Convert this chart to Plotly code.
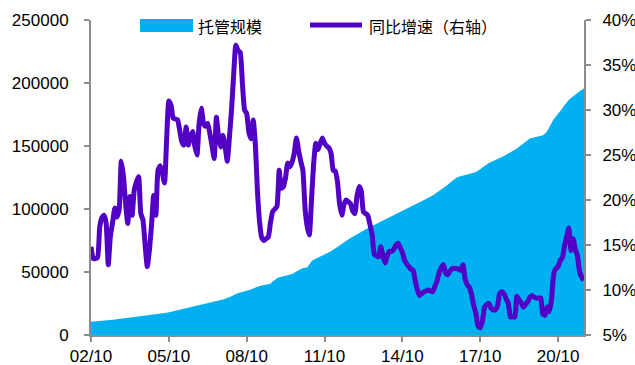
import pandas as pd
import plotly.graph_objects as go

# 托管规模 (monthly, left axis), 2002-10 .. 2021-10
scale_values = [
    10500, 10600, 10750,
    10900, 11050, 11200, 11350, 11500, 11650, 11900, 12100, 12300, 12500, 12700, 12900,
    13100, 13300, 13500, 13700, 13900, 14100, 14300, 14500, 14750, 15000, 15250, 15500,
    15800, 16050, 16300, 16550, 16800, 17000, 17250, 17500, 17750, 18000, 18400, 18800,
    19200, 19600, 20000, 20400, 20800, 21200, 21600, 22000, 22500, 22900, 23300, 23800,
    24200, 24600, 24900, 25200, 25500, 25900, 26200, 26500, 27000, 27500, 28100, 28700,
    29300, 29900, 30800, 31800, 32800, 33400, 33800, 34200, 34500, 34900, 35500, 36200,
    37000, 37800, 38500, 38900, 39200, 39600, 39900, 40200, 40600, 42500, 44000, 45000,
    45800, 46400, 46800, 47100, 47400, 47700, 48500, 49500, 50600, 51700, 52400, 52900,
    53300, 53800, 56000, 58500, 59700, 60500, 61300, 62100, 63000, 63900, 64800, 65700,
    66500, 67600, 68800, 70000, 71200, 72400, 73600, 74900, 76000, 77000, 78000, 79000,
    80100, 81200, 82300, 83300, 84100, 84900, 85800, 86600, 87500, 88300, 89100, 90000,
    90900, 91800, 92600, 93400, 94300, 95100, 96000, 96800, 97700, 98500, 99400, 100200,
    101000, 101900, 102800, 103600, 104500, 105300, 106100, 106900, 107800, 108700, 109600, 110800,
    112000, 113200, 114200, 115300, 116300, 117800, 119300, 120800, 122300, 123700, 124900, 125500,
    125900, 126300, 126800, 127300, 127800, 128300, 128800, 129300, 130300, 131600, 133000, 134400,
    135800, 136600, 137300, 138000, 138800, 139600, 140600, 141300, 142100, 143000, 143900, 144800,
    145800, 146800, 148000, 149400, 150800, 152200, 153500, 154800, 156000, 156400, 156800, 157200,
    157700, 158200, 158600, 160000, 162000, 165000, 168500, 171500, 173500, 175500, 177500, 180000,
    182500, 185000, 186500, 188000, 189500, 191000, 192300, 193500, 194700, 195800,
]

# 同比增速 (%, right axis), same months
growth_values = [
    14.8, 13.5, 13.5,
    13.6, 17.0, 18.0, 18.3, 17.5, 12.8, 16.0, 17.5, 19.1, 18.1, 18.9, 24.3,
    22.6, 19.5, 17.4, 20.4, 18.3, 21.1, 22.0, 22.6, 18.5, 17.8, 15.0, 12.6,
    14.5, 17.4, 20.5, 18.3, 23.3, 23.8, 23.0, 21.9, 27.0, 31.0, 30.5, 29.1,
    29.0, 28.9, 27.8, 26.5, 26.1, 28.1, 26.1, 27.0, 27.6, 26.0, 25.0, 28.5,
    30.2, 28.5, 28.2, 28.5, 27.4, 26.0, 24.6, 29.2, 27.0, 25.9, 27.2, 26.0,
    24.3, 27.0, 30.0, 34.0, 37.2, 36.6, 36.4, 33.0, 30.0, 29.6, 27.5, 26.8,
    28.9, 26.0, 21.0, 17.5, 15.8, 15.5, 15.7, 15.9, 17.5, 18.7, 19.0, 19.3,
    23.3, 21.3, 21.5, 22.5, 24.1, 23.7, 24.2, 25.2, 26.9, 25.5, 24.3, 23.3,
    19.0, 17.0, 16.1, 20.0, 24.0, 26.3, 25.6, 26.3, 26.9, 26.3, 26.0, 25.8,
    25.2, 23.3, 23.2, 22.0, 19.5, 18.3, 19.5, 20.0, 19.8, 19.6, 18.8, 18.5,
    20.5, 21.5, 21.0, 18.7, 18.5, 18.3, 17.3, 16.2, 14.0, 13.8, 13.7, 14.8,
    13.8, 13.0, 13.8, 14.3, 14.3, 14.5, 15.0, 15.2, 14.7, 14.2, 13.3, 12.9,
    12.6, 12.3, 12.2, 11.0, 10.0, 9.4, 9.6, 9.8, 9.9, 10.0, 9.9, 9.8,
    10.4, 11.0, 11.9, 12.5, 12.8, 11.9, 11.7, 12.1, 12.4, 12.4, 12.4, 12.3,
    12.2, 12.8, 11.3, 10.6, 10.3, 9.5, 8.3, 7.4, 6.0, 5.8, 6.5, 8.1,
    8.4, 8.5, 8.0, 7.8, 7.8, 8.2, 9.6, 9.8, 9.6, 9.0, 8.5, 7.0,
    7.0, 7.0, 9.3, 8.9, 8.6, 8.1, 8.4, 8.7, 9.2, 9.4, 9.2, 9.1,
    9.1, 9.1, 7.3, 7.2, 8.1, 7.6, 9.0, 11.8, 12.4, 12.6, 13.3, 13.6,
    15.0, 16.0, 16.9, 14.4, 15.7, 14.5, 13.8, 12.0, 11.4, 11.1,
]

tick_dates = ["2002-10-01", "2005-10-01", "2008-10-01", "2011-10-01",
              "2014-10-01", "2017-10-01", "2020-10-01"]
tick_labels = ["02/10", "05/10", "08/10", "11/10", "14/10", "17/10", "20/10"]

left_ticks = [0, 50000, 100000, 150000, 200000, 250000]
right_ticks = [5, 10, 15, 20, 25, 30, 35, 40]
right_tick_labels = ["5%", "10%", "15%", "20%", "25%", "30%", "35%", "40%"]

assert len(scale_values) == len(growth_values)
months = pd.date_range("2002-10-01", periods=len(scale_values), freq="MS")

AREA_COLOR = "#00B0F0"
LINE_COLOR = "#5200C6"
AXIS_COLOR = "#8C8C8C"
TICK_FONT = dict(family="Arial, Liberation Sans, sans-serif", size=17, color="#000000")
CJK_FONT = dict(family="Noto Sans CJK SC", size=16, color="#000000")

fig = go.Figure()
fig.add_trace(go.Scatter(
    x=months, y=scale_values, name="托管规模",
    mode="lines", fill="tozeroy", fillcolor=AREA_COLOR,
    line=dict(width=0, color=AREA_COLOR), showlegend=False,
))
fig.add_trace(go.Scatter(
    x=months, y=growth_values, name="同比增速（右轴）", yaxis="y2",
    mode="lines",
    line=dict(width=5, color=LINE_COLOR, shape="spline", smoothing=0.5),
    showlegend=False,
))

# plot area spans x 91..584, y 20..335 in a 635x365 page
L, R, T, B = 91, 584, 20, 335
W, H = R - L, B - T


def px(x):
    return (x - L) / W


def py(y):
    return (B - y) / H


# hand-built legend row at the top of the plot
fig.add_shape(type="rect", xref="paper", yref="paper",
              x0=px(140), x1=px(193), y0=py(32), y1=py(19),
              fillcolor=AREA_COLOR, line=dict(width=0))
fig.add_annotation(text="托管规模", xref="paper", yref="paper",
                   x=px(196), y=py(26), xanchor="left", yanchor="middle",
                   showarrow=False, font=CJK_FONT)
fig.add_shape(type="line", xref="paper", yref="paper",
              x0=px(310), x1=px(362), y0=py(25), y1=py(25),
              line=dict(color=LINE_COLOR, width=5))
fig.add_annotation(text="同比增速（右轴）", xref="paper", yref="paper",
                   x=px(367), y=py(26), xanchor="left", yanchor="middle",
                   showarrow=False, font=CJK_FONT)

fig.update_layout(
    width=635, height=365,
    margin=dict(l=L, r=635 - R, t=T, b=365 - B, autoexpand=False),
    paper_bgcolor="white", plot_bgcolor="white",
    xaxis=dict(
        type="date", range=[months[0], months[-1]],
        tickvals=tick_dates, ticktext=tick_labels,
        showgrid=False, zeroline=False, automargin=False,
        showline=True, linecolor=AXIS_COLOR, linewidth=2,
        ticks="outside", ticklen=5, tickwidth=2, tickcolor=AXIS_COLOR,
        tickfont=TICK_FONT, ticklabelstandoff=0,
    ),
    yaxis=dict(
        range=[0, 250000], tickvals=left_ticks, tickformat="d",
        showgrid=False, zeroline=False, automargin=False,
        showline=True, linecolor=AXIS_COLOR, linewidth=2,
        ticks="outside", ticklen=5, tickwidth=2, tickcolor=AXIS_COLOR,
        tickfont=TICK_FONT, ticklabelstandoff=12,
    ),
    yaxis2=dict(
        range=[5, 40], tickvals=right_ticks, ticktext=right_tick_labels,
        overlaying="y", side="right",
        showgrid=False, zeroline=False, automargin=False,
        showline=True, linecolor=AXIS_COLOR, linewidth=2,
        ticks="outside", ticklen=5, tickwidth=2, tickcolor=AXIS_COLOR,
        tickfont=TICK_FONT, ticklabelstandoff=8,
    ),
)

fig.write_html("out.html")
